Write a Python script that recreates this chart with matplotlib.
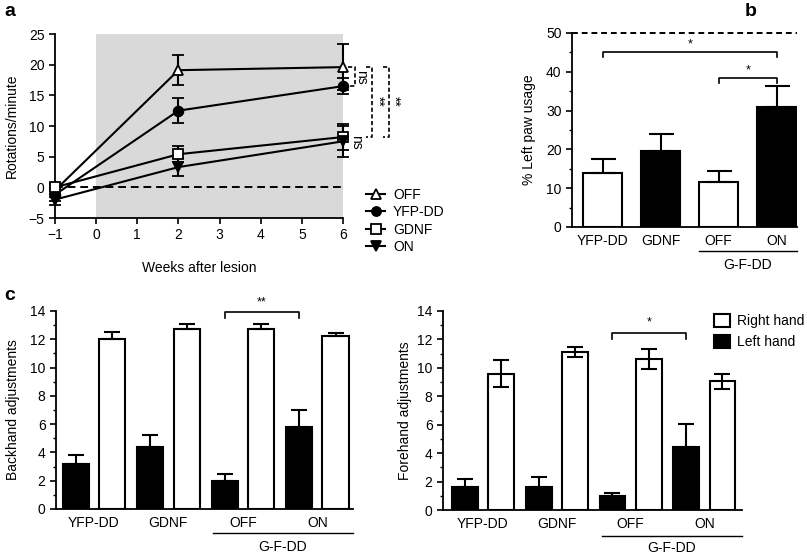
import numpy as np
import matplotlib
matplotlib.use("Agg")
import matplotlib.pyplot as plt
from matplotlib.lines import Line2D

plt.rcParams['font.family'] = ['Liberation Sans', 'DejaVu Sans']
plt.rcParams['font.size'] = 10
plt.rcParams['axes.linewidth'] = 1.3

# ---------- panel a data ----------
weeks = [-1, 2, 6]
a_series = ["OFF", "YFP-DD", "GDNF", "ON"]
a_off = [-0.5, 19.1, 19.6]
a_off_err = [1.0, 2.4, 3.7]
a_yfp = [-1.2, 12.5, 16.5]
a_yfp_err = [1.0, 2.0, 1.3]
a_gdnf = [0.0, 5.4, 8.2]
a_gdnf_err = [0.6, 1.3, 2.1]
a_on = [-2.0, 3.3, 7.5]
a_on_err = [0.9, 1.5, 2.5]

# ---------- panel b data ----------
b_groups = ["YFP-DD", "GDNF", "OFF", "ON"]
b_vals = [14.0, 19.7, 11.7, 31.0]
b_err = [3.5, 4.2, 2.7, 5.3]
b_fill = ["white", "black", "white", "black"]

# ---------- panel c data ----------
c_groups = ["YFP-DD", "GDNF", "OFF", "ON"]
back_left = [3.2, 4.4, 2.0, 5.8]
back_left_err = [0.6, 0.85, 0.5, 1.2]
back_right = [12.0, 12.7, 12.75, 12.2]
back_right_err = [0.5, 0.35, 0.35, 0.25]
fore_left = [1.65, 1.65, 1.0, 4.45]
fore_left_err = [0.5, 0.7, 0.2, 1.6]
fore_right = [9.6, 11.1, 10.6, 9.05]
fore_right_err = [0.95, 0.35, 0.7, 0.55]

W, H = 807, 555
fig = plt.figure(figsize=(W / 100, H / 100), dpi=100)


def px_axes(l, t, r, b):
    return fig.add_axes([l / W, 1 - b / H, (r - l) / W, (b - t) / H])


def style(ax):
    for s in ["top", "right"]:
        ax.spines[s].set_visible(False)
    ax.tick_params(direction="out", length=4, width=1.2, labelsize=10)
    ax.tick_params(which="minor", direction="out", length=2.5, width=1.0)


# ================= panel a =================
ax = px_axes(55, 34, 343, 218)
style(ax)
ax.axvspan(0, 6, color="#d9d9d9", lw=0, zorder=0)
ax.axhline(0, color="black", ls="--", lw=1.4, dashes=(4, 2.5), zorder=1)
specs = [("^", "white", a_off, a_off_err),
         ("o", "black", a_yfp, a_yfp_err),
         ("s", "white", a_gdnf, a_gdnf_err),
         ("v", "black", a_on, a_on_err)]
handles = []
for name, (m, fc, v, e) in zip(a_series, specs):
    ax.errorbar(weeks, v, yerr=e, color="black", lw=1.5, marker=m, ms=7,
                mfc=fc, mec="black", mew=1.3, capsize=4, capthick=1.5,
                elinewidth=1.5, clip_on=False, zorder=3)
    handles.append(Line2D([], [], color="black", lw=1.5, marker=m, ms=6.5,
                          mfc=fc, mec="black", mew=1.3, label=name))
ax.set_xlim(-1, 6)
ax.set_ylim(-5, 25)
ax.set_xticks(range(-1, 7))
ax.set_xticklabels(["\u22121"] + [str(i) for i in range(0, 7)])
ax.set_yticks(range(-5, 26, 5))
ax.set_yticklabels(["\u22125"] + [str(i) for i in range(0, 26, 5)])
ax.set_xlabel("Weeks after lesion")
ax.set_ylabel("Rotations/minute")
ax.xaxis.set_label_coords(0.5, -0.235)
ax.yaxis.set_label_coords(-0.125, 0.5)

# significance brackets at week 6
def vbracket(ax, x0, x1, y0, y1):
    ax.plot([x0, x1, x1, x0], [y0, y0, y1, y1], color="black", lw=1.2,
            ls="--", dashes=(2.5, 1.5), clip_on=False)

vbracket(ax, 6.12, 6.29, 19.6, 16.5)
ax.text(6.43, 18.0, "ns", rotation=-90, ha="center", va="center", fontsize=10)
vbracket(ax, 6.56, 6.71, 19.6, 8.2)
ax.text(6.84, 14.0, "**", rotation=-90, ha="center", va="center", fontsize=10)
vbracket(ax, 6.98, 7.13, 19.6, 8.2)
ax.text(7.25, 14.0, "**", rotation=-90, ha="center", va="center", fontsize=10)
ax.text(6.31, 7.4, "ns", rotation=-90, ha="center", va="center", fontsize=10)

ax.legend(handles=handles, loc="upper left", bbox_to_anchor=(1.08, 0.165),
          frameon=False, handlelength=1.4, handletextpad=0.55, labelspacing=0.25,
          borderpad=0, borderaxespad=0, fontsize=10)

fig.text(4 / W, 1 - 12 / H, "a", fontsize=14, fontweight="bold", va="center")

# ================= panel b =================
ax = px_axes(572, 33, 797, 227)
style(ax)
xb = np.arange(len(b_groups))
ax.bar(xb, b_vals, width=0.67, color=b_fill, edgecolor="black", lw=1.5,
       yerr=[np.zeros(len(b_err)), b_err], capsize=9,
       error_kw=dict(elinewidth=1.5, capthick=1.5), zorder=2)
ax.axhline(50, color="black", ls="--", lw=1.4, dashes=(3, 2), clip_on=False)
ax.set_xlim(-0.53, 3.35)
ax.set_ylim(0, 50)
ax.set_yticks(range(0, 51, 10))
ax.set_yticks(range(5, 50, 10), minor=True)
ax.set_xticks(xb)
ax.set_xticklabels(b_groups)
ax.tick_params(axis="x", length=0, pad=5)
ax.set_ylabel("% Left paw usage")
ax.yaxis.set_label_coords(-0.16, 0.5)

def hbracket(ax, x0, x1, y, drop, label, dy):
    ax.plot([x0, x0, x1, x1], [y - drop, y, y, y - drop], color="black",
            lw=1.2, clip_on=False)
    ax.text((x0 + x1) / 2, y + dy, label, ha="center", va="center", fontsize=9)

hbracket(ax, 0, 3, 45.2, 1.5, "*", 1.8)
hbracket(ax, 2, 3, 38.5, 1.4, "*", 1.8)
ax.plot([1.665, 3.35], [-0.122, -0.122], color="black", lw=1.0,
        transform=ax.get_xaxis_transform(), clip_on=False)
ax.text(2.5, -0.195, "G-F-DD", transform=ax.get_xaxis_transform(),
        ha="center", va="center", fontsize=10)

fig.text(745 / W, 1 - 12 / H, "b", fontsize=14, fontweight="bold", va="center")

# ================= panel c =================
def c_panel(ax, left, left_err, right, right_err, right_two_sided, ylab):
    style(ax)
    x = np.arange(len(c_groups))
    off = 0.245
    n = len(c_groups)
    ax.bar(x - off, left, width=0.35, color="black", edgecolor="black", lw=1.5,
           yerr=[np.zeros(n), left_err], capsize=6,
           error_kw=dict(elinewidth=1.5, capthick=1.5), label="Left hand", zorder=2)
    rerr = [right_err, right_err] if right_two_sided else [np.zeros(n), right_err]
    ax.bar(x + off, right, width=0.35, color="white", edgecolor="black", lw=1.5,
           yerr=rerr, capsize=6,
           error_kw=dict(elinewidth=1.5, capthick=1.5), label="Right hand", zorder=2)
    ax.set_ylim(0, 14)
    ax.set_yticks(range(0, 15, 2))
    ax.set_yticks(range(1, 14, 2), minor=True)
    ax.set_xticks(x)
    ax.set_xticklabels(c_groups)
    ax.tick_params(axis="x", length=0, pad=5)
    ax.set_ylabel(ylab)
    return x, off


ax = px_axes(56, 311, 353, 509)
x, off = c_panel(ax, back_left, back_left_err, back_right, back_right_err,
                 False, "Backhand adjustments")
ax.set_xlim(-0.51, 3.48)
ax.yaxis.set_label_coords(-0.12, 0.5)
hbracket(ax, 2 - off, 3 - off, 13.95, 0.45, "**", 0.65)
ax.plot([1.6, 3.48], [-0.121, -0.121], color="black", lw=1.0,
        transform=ax.get_xaxis_transform(), clip_on=False)
ax.text(2.54, -0.19, "G-F-DD", transform=ax.get_xaxis_transform(),
        ha="center", va="center", fontsize=10)

fig.text(4 / W, 1 - 295 / H, "c", fontsize=14, fontweight="bold", va="center")

ax = px_axes(443, 311, 742, 510)
x, off = c_panel(ax, fore_left, fore_left_err, fore_right, fore_right_err,
                 True, "Forehand adjustments")
ax.set_xlim(-0.54, 3.51)
ax.yaxis.set_label_coords(-0.104, 0.5)
hbracket(ax, 2 - off, 3 - off, 12.45, 0.45, "*", 0.75)
ax.plot([1.62, 3.51], [-0.13, -0.13], color="black", lw=1.0,
        transform=ax.get_xaxis_transform(), clip_on=False)
ax.text(2.55, -0.19, "G-F-DD", transform=ax.get_xaxis_transform(),
        ha="center", va="center", fontsize=10)
h, lab = ax.get_legend_handles_labels()
ax.legend(h[::-1], lab[::-1], loc="upper left", bbox_to_anchor=(0.905, 0.985),
          frameon=False, handlelength=1.2, handleheight=1.1, handletextpad=0.5,
          labelspacing=0.45, borderpad=0, borderaxespad=0, fontsize=10)

fig.savefig("out.png", dpi=100)
